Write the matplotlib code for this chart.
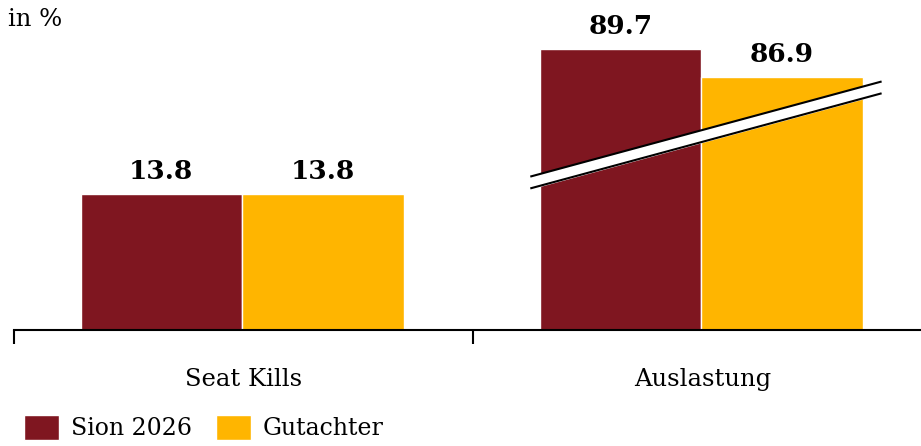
import matplotlib.pyplot as plt
import numpy as np

categories = ["Seat Kills", "Auslastung"]
sion = [13.8, 89.7]
gutachter = [13.8, 86.9]
series_names = ["Sion 2026", "Gutachter"]

# second group drawn with a broken axis
break_offset = [0, 61.2]

col_sion = "#7F1620"
col_gut = "#FFB500"

plt.rcParams["font.family"] = ["DejaVu Serif"]

fig = plt.figure(figsize=(9.21, 4.46), dpi=100)
ax = fig.add_axes([14 / 921, 116 / 446, 907 / 921, 330 / 446])

x = np.arange(len(categories))
w = 0.352
shown_s = np.array(sion) - np.array(break_offset)
shown_g = np.array(gutachter) - np.array(break_offset)
b1 = ax.bar(x - w / 2 - 0.003, shown_s, w, color=col_sion, edgecolor="white", linewidth=1, label=series_names[0])
b2 = ax.bar(x + w / 2 - 0.003, shown_g, w, color=col_gut, edgecolor="white", linewidth=1, label=series_names[1])

for bars, vals in [(b1, sion), (b2, gutachter)]:
    for r, v in zip(bars, vals):
        ax.text(r.get_x() + r.get_width() / 2, r.get_height() + 1.0, f"{v:.1f}",
                ha="center", va="bottom", fontsize=19, fontweight="bold")

ax.set_xlim(-0.5, 1.476)
ax.set_ylim(0, 33.5)

# axis break marker across the second group
bx = np.array([0.627, 1.388])
by = np.array([15.0, 24.6])
gap = 1.2
ax.fill_between(bx, by - gap / 2, by + gap / 2, color="white", zorder=3)
ax.plot(bx, by + gap / 2, color="black", lw=1.5, zorder=4)
ax.plot(bx, by - gap / 2, color="black", lw=1.5, zorder=4)

for s in ["top", "right", "left"]:
    ax.spines[s].set_visible(False)
ax.spines["bottom"].set_linewidth(1.5)
ax.set_yticks([])
ax.set_xticks([-0.5, 0.5])
ax.set_xticklabels([])
ax.tick_params(axis="x", length=10, width=1.5, direction="out")
for xi, c in zip(x, categories):
    ax.text(xi, -5.0, c, ha="center", va="center", fontsize=17.5)

fig.text(8 / 921, 1 - 20 / 446, "in %", fontsize=17.5, va="center", ha="left")

fig.legend(handles=[b1, b2], loc="lower left", bbox_to_anchor=(0.003, -0.035),
           frameon=False, fontsize=17, ncol=2, handlelength=1.5, handleheight=1.25,
           columnspacing=1.0, handletextpad=0.5)

fig.savefig("out.png", dpi=100)
